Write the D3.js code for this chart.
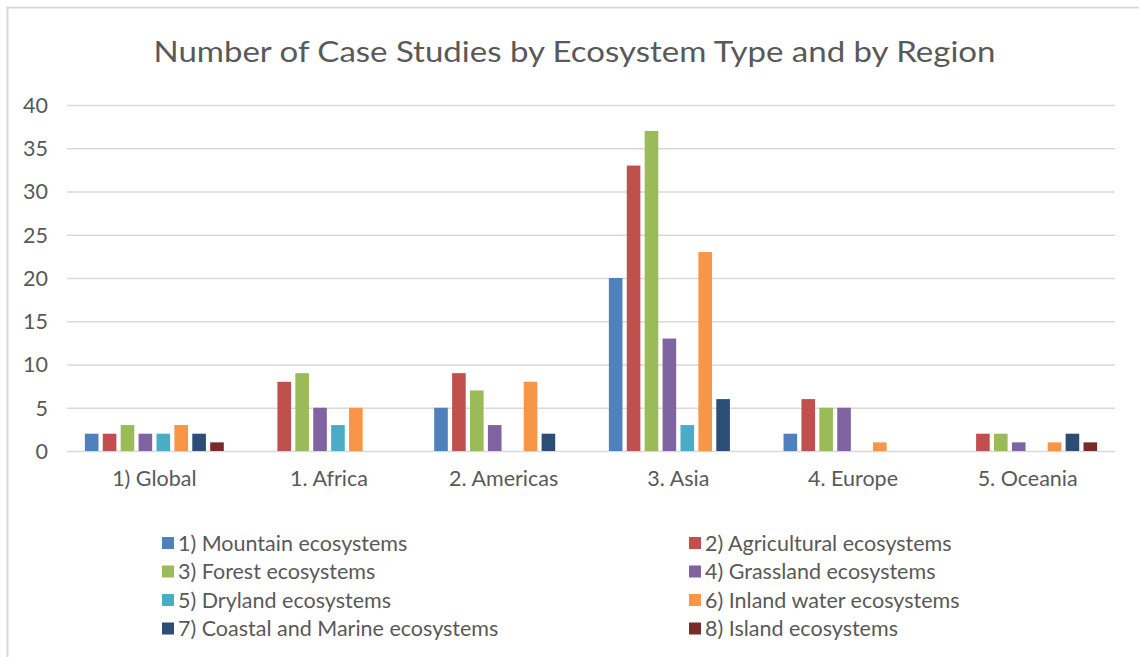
<!DOCTYPE html>
<html>
<head>
<meta charset="utf-8">
<script src="https://cdn.jsdelivr.net/npm/d3@7"></script>
<style>
  html, body { margin: 0; padding: 0; background: #fff; }
  svg { display: block; font-family: Lato, "Open Sans", sans-serif; }
</style>
</head>
<body>
<svg id="chart" width="1139" height="657"></svg>
<script>
// Regions on the category axis
const regions = ["1) Global", "1. Africa", "2. Americas", "3. Asia", "4. Europe", "5. Oceania"];

// Ecosystem types (series) and their colours
const ecosystems = [
  "1) Mountain ecosystems",
  "2) Agricultural ecosystems",
  "3) Forest ecosystems",
  "4) Grassland ecosystems",
  "5) Dryland ecosystems",
  "6) Inland water ecosystems",
  "7) Coastal and Marine ecosystems",
  "8) Island ecosystems"
];
const colors = ["#4F81BD", "#C0504D", "#9BBB59", "#8064A2", "#4BACC6", "#F79646", "#2C4D75", "#772C2A"];

// Case-study counts per ecosystem type, one value per region
const mountain     = [2, 0, 5, 20, 2, 0];
const agricultural = [2, 8, 9, 33, 6, 2];
const forest       = [3, 9, 7, 37, 5, 2];
const grassland    = [2, 5, 3, 13, 5, 1];
const dryland      = [2, 3, 0, 3, 0, 0];
const inlandWater  = [3, 5, 8, 23, 1, 1];
const coastal      = [2, 0, 2, 6, 0, 2];
const island       = [1, 0, 0, 0, 0, 1];
const seriesValues = [mountain, agricultural, forest, grassland, dryland, inlandWater, coastal, island];

const yTicks = [0, 5, 10, 15, 20, 25, 30, 35, 40];

const title = "Number of Case Studies by Ecosystem Type and by Region";

const svg = d3.select("#chart");
const textColor = "#595959";
const gridColor = "#d9d9d9";
const labelSize = 21.5;

// chart area border
svg.append("rect")
  .attr("x", 7.5).attr("y", 7.5)
  .attr("width", 1200).attr("height", 700)
  .attr("fill", "#fff")
  .attr("stroke", gridColor).attr("stroke-width", 2);

// title
svg.append("text")
  .attr("x", 574.5).attr("y", 62)
  .attr("text-anchor", "middle")
  .attr("font-size", 28)
  .attr("fill", textColor)
  .attr("textLength", 842)
  .attr("lengthAdjust", "spacingAndGlyphs")
  .text(title);

const plot = { left: 67, right: 1115, top: 105, bottom: 451 };

const x0 = d3.scaleBand().domain(regions).range([plot.left, plot.right]).padding(0);
const bw = x0.bandwidth();
const groupPad = bw * 0.09;
const x1 = d3.scaleBand().domain(d3.range(ecosystems.length))
  .range([groupPad, bw - groupPad]).paddingInner(0.24).paddingOuter(0.12);
const y = d3.scaleLinear().domain([0, 40]).range([plot.bottom, plot.top]);

// horizontal gridlines + y tick labels
const yAxis = d3.axisLeft(y).tickValues(yTicks).tickSize(-(plot.right - plot.left)).tickPadding(19);
const gy = svg.append("g").attr("transform", `translate(${plot.left},0)`).call(yAxis);
gy.select(".domain").remove();
gy.selectAll(".tick line").attr("stroke", gridColor).attr("stroke-width", 1.3);
gy.selectAll(".tick text")
  .attr("fill", textColor).attr("font-size", labelSize)
  .attr("font-family", "Lato, sans-serif")
  .attr("dy", "0.34em");

// bars
const groups = svg.append("g").selectAll("g")
  .data(regions)
  .join("g")
  .attr("transform", d => `translate(${x0(d)},0)`);

groups.selectAll("rect")
  .data((r, ri) => seriesValues.map((vals, si) => ({ si, v: vals[ri] })))
  .join("rect")
  .filter(d => d.v > 0)
  .attr("x", d => x1(d.si))
  .attr("y", d => y(d.v))
  .attr("width", x1.bandwidth())
  .attr("height", d => y(0) - y(d.v))
  .attr("fill", d => colors[d.si]);

// category labels
const xAxis = d3.axisBottom(x0).tickSize(0).tickPadding(20);
const gx = svg.append("g").attr("transform", `translate(0,${plot.bottom})`).call(xAxis);
gx.select(".domain").remove();
gx.selectAll(".tick text")
  .attr("fill", textColor).attr("font-size", labelSize)
  .attr("font-family", "Lato, sans-serif");

// legend: two columns, four rows
const legendCols = [162, 689];
const legendRowY = [543, 571.5, 600, 628.5];
const legend = svg.append("g").selectAll("g")
  .data(ecosystems)
  .join("g")
  .attr("transform", (d, i) => `translate(${legendCols[i % 2]},${legendRowY[Math.floor(i / 2)]})`);
legend.append("rect")
  .attr("x", 0).attr("y", -6)
  .attr("width", 12).attr("height", 12)
  .attr("fill", (d, i) => colors[i]);
legend.append("text")
  .attr("x", 16).attr("y", 0)
  .attr("dy", "0.35em")
  .attr("font-size", labelSize)
  .attr("fill", textColor)
  .text(d => d);
</script>
</body>
</html>
